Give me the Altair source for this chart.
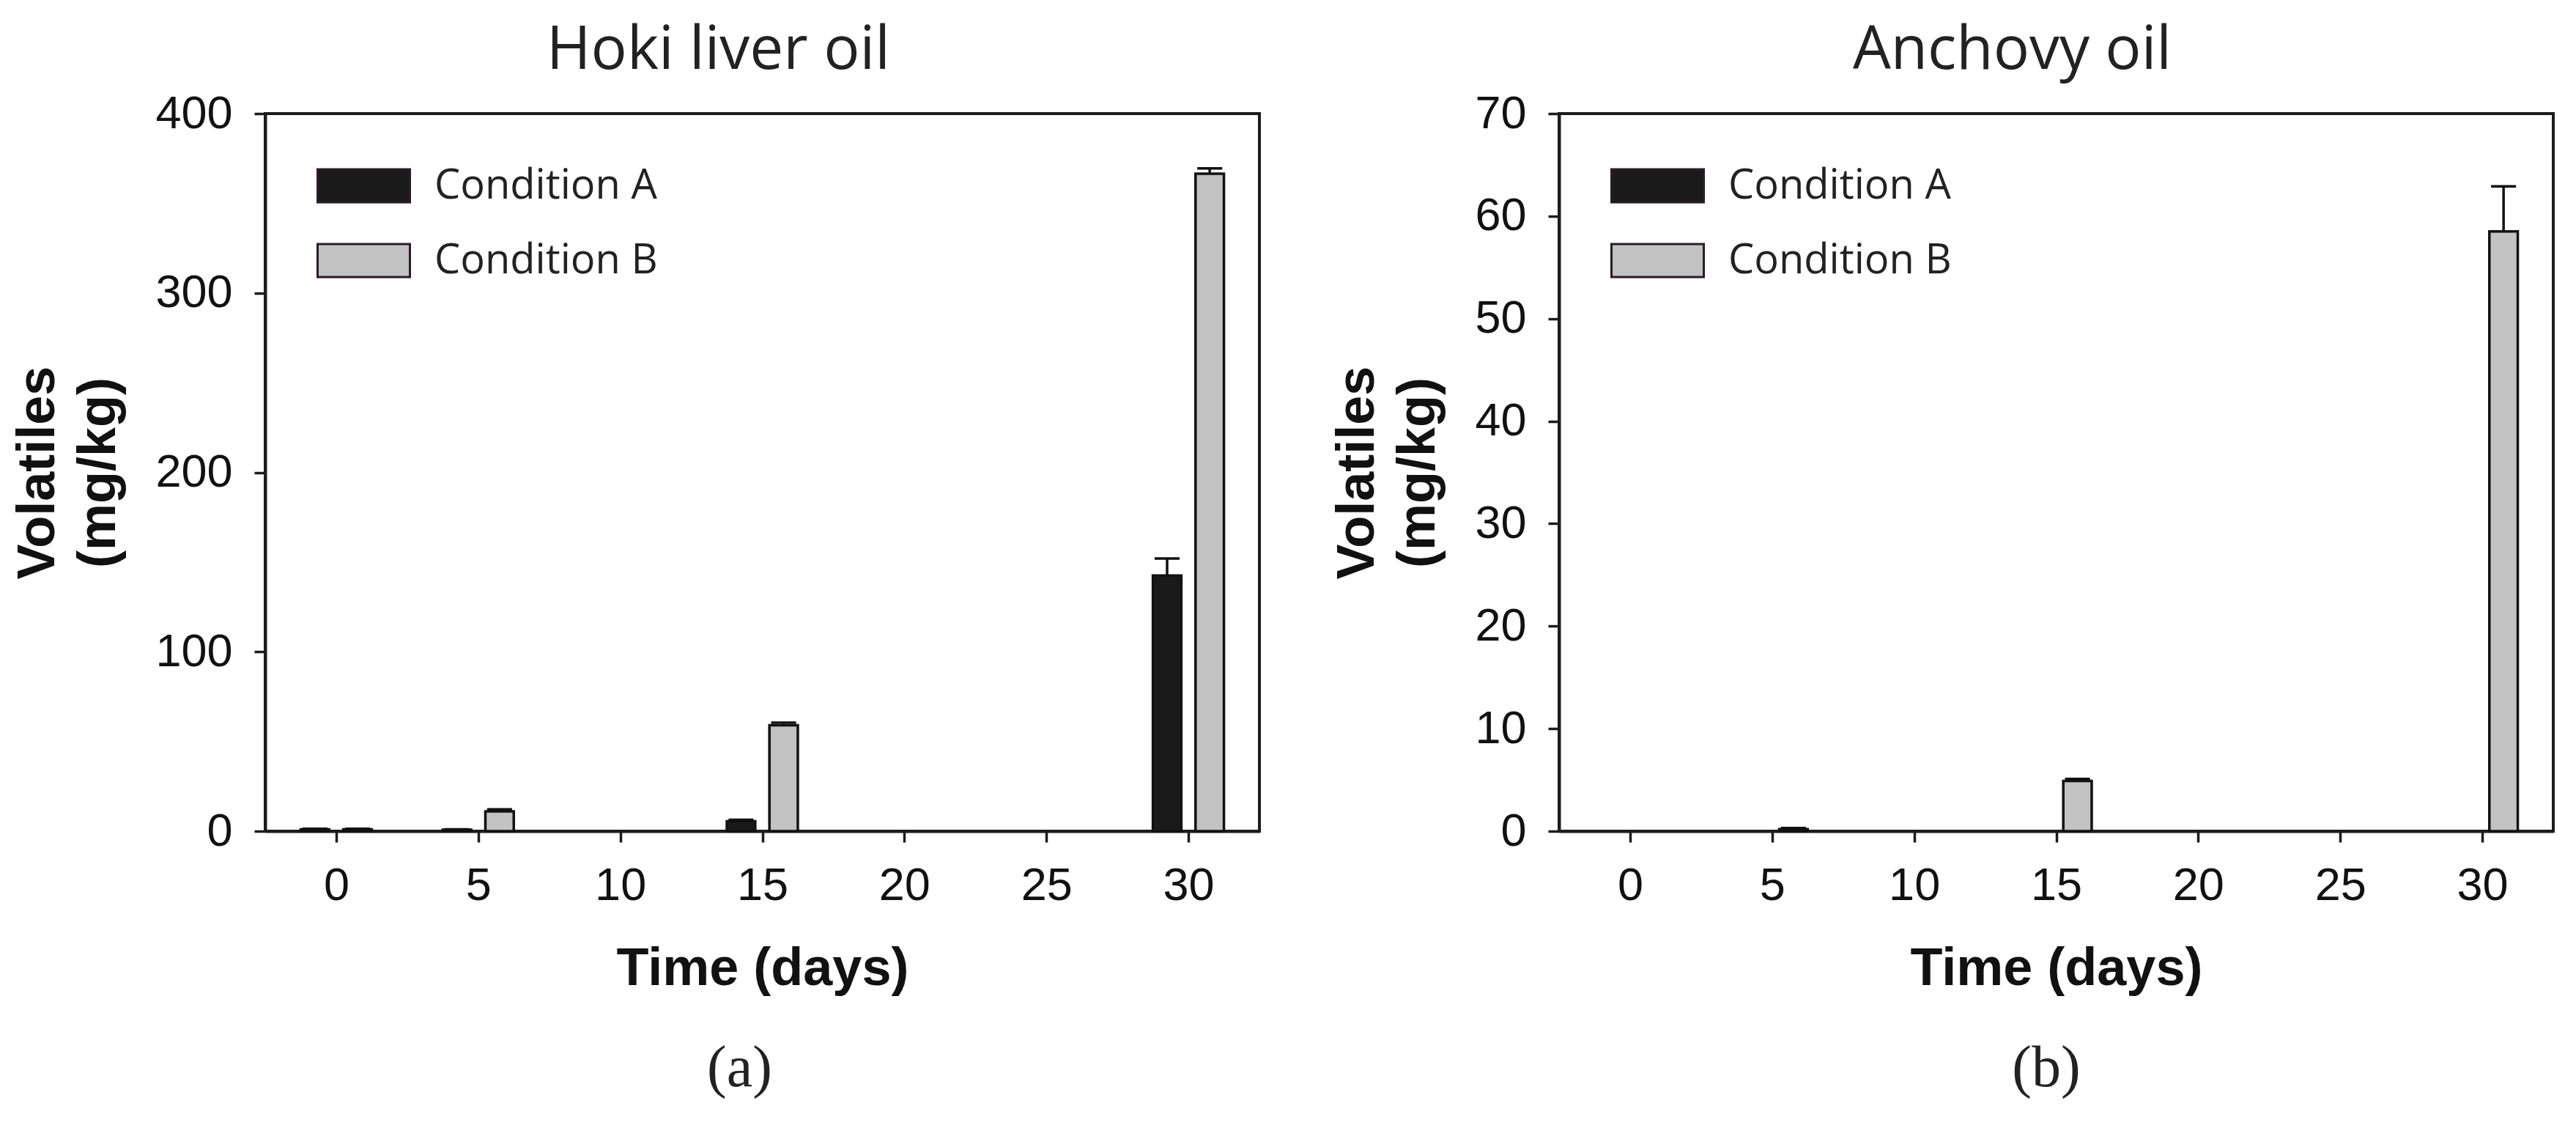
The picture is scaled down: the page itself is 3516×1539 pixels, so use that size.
import altair as alt
import pandas as pd

days = [0, 5, 15, 30]
conditions = ["Condition A", "Condition B"]

hoki_a = [1.0, 0.8, 5.5, 142.5]
hoki_a_err = [0.3, 0.2, 0.8, 9.5]
hoki_b = [1.0, 11.0, 59.0, 366.5]
hoki_b_err = [0.3, 1.2, 1.5, 3.0]

anch_a = [0.0, 0.0, 0.0, 0.0]
anch_a_err = [0.0, 0.0, 0.0, 0.0]
anch_b = [0.0, 0.2, 4.9, 58.5]
anch_b_err = [0.0, 0.1, 0.2, 4.4]

x_ticks = [0, 5, 10, 15, 20, 25, 30]


def make_df(a, a_err, b, b_err):
    rows = []
    for i, d in enumerate(days):
        rows.append({"day": d, "cond": conditions[0], "value": a[i], "err": a_err[i]})
        rows.append({"day": d, "cond": conditions[1], "value": b[i], "err": b_err[i]})
    return pd.DataFrame(rows)


PW, PH = 1357, 979
INK = "#1c1c1c"


def panel(df, title, ymax, ystep, label):
    base = alt.Chart(df).transform_calculate(
        off="datum.cond == 'Condition A' ? -0.75 : 0.75",
    ).transform_calculate(
        x0="datum.day + datum.off - 0.5",
        x1="datum.day + datum.off + 0.5",
        xc="datum.day + datum.off",
        top="datum.value + datum.err",
    ).transform_calculate(
        c0="datum.xc - 0.44",
        c1="datum.xc + 0.44",
    )
    xscale = alt.Scale(domain=[-2.5, 32.5], nice=False, zero=False)
    yscale = alt.Scale(domain=[0, ymax], nice=False)
    xaxis = alt.Axis(values=x_ticks, title="Time (days)", format="d")
    yaxis = alt.Axis(values=list(range(0, ymax + 1, ystep)), title=["Volatiles", "(mg/kg)"], format="d")

    bars = base.transform_filter("datum.value > 0").mark_bar(stroke="#111111", strokeWidth=3.5).encode(
        x=alt.X("x0:Q", scale=xscale, axis=xaxis),
        x2="x1:Q",
        y=alt.Y("value:Q", scale=yscale, axis=yaxis),
        y2=alt.datum(0),
        color=alt.Color(
            "cond:N",
            scale=alt.Scale(domain=conditions, range=["#1a1a1a", "#c2c2c2"]),
            legend=alt.Legend(
                title=None,
                orient="top-left",
                offset=70,
                padding=0,
                symbolType="M-1,-0.357L1,-0.357L1,0.357L-1,0.357Z",
                symbolSize=15876,
                symbolStrokeColor="#2a1a2a",
                symbolStrokeWidth=3,
                clipHeight=57,
                rowPadding=45,
                labelFont="Open Sans",
                labelFontSize=56,
                labelColor="#222222",
                labelOffset=32,
                labelLimit=600,
            ),
        ),
    )
    err = base.transform_filter("datum.err > 0").mark_rule(color="#111111", strokeWidth=3.5).encode(
        x="xc:Q", y="value:Q", y2="top:Q"
    )
    cap = base.transform_filter("datum.err > 0").mark_rule(color="#111111", strokeWidth=3.5).encode(
        x="c0:Q", x2="c1:Q", y="top:Q"
    )
    layer = alt.layer(bars, err, cap).properties(
        width=PW,
        height=PH,
        title=alt.Title(
            title,
            font="Open Sans",
            fontSize=82,
            fontWeight="normal",
            color="#222222",
            anchor="middle",
            offset=13,
            dx=-60,
        ),
    )
    return alt.hconcat(layer).properties(
        title=alt.Title(
            label,
            orient="bottom",
            font="Liberation Serif",
            fontSize=80,
            fontWeight="normal",
            color="#222222",
            anchor="middle",
            offset=60,
            dx=142,
        )
    )


df_hoki = make_df(hoki_a, hoki_a_err, hoki_b, hoki_b_err)
df_anch = make_df(anch_a, anch_a_err, anch_b, anch_b_err)

chart = alt.hconcat(
    panel(df_hoki, "Hoki liver oil", 400, 100, "(a)"),
    panel(df_anch, "Anchovy oil", 70, 10, "(b)"),
    spacing=93,
).resolve_scale(color="independent").resolve_legend(color="independent").properties(
    padding={"left": 5, "top": 18, "right": 5, "bottom": 5}
).configure_view(
    stroke=INK, strokeWidth=4
).configure_axis(
    grid=False,
    domainColor=INK,
    domainWidth=4,
    tickColor=INK,
    tickWidth=3.5,
    tickSize=15,
    labelFont="Liberation Sans",
    labelFontSize=63,
    labelColor="#111111",
    titleFont="Liberation Sans",
    titleFontSize=72,
    titleFontWeight="bold",
    titleColor="#111111",
    titleLineHeight=83,
).configure_axisX(
    labelPadding=28, titlePadding=46
).configure_axisY(
    labelPadding=30, titlePadding=40
).configure_concat(spacing=93)

chart.save("out.html", embed_options={"renderer": "svg", "actions": False})
